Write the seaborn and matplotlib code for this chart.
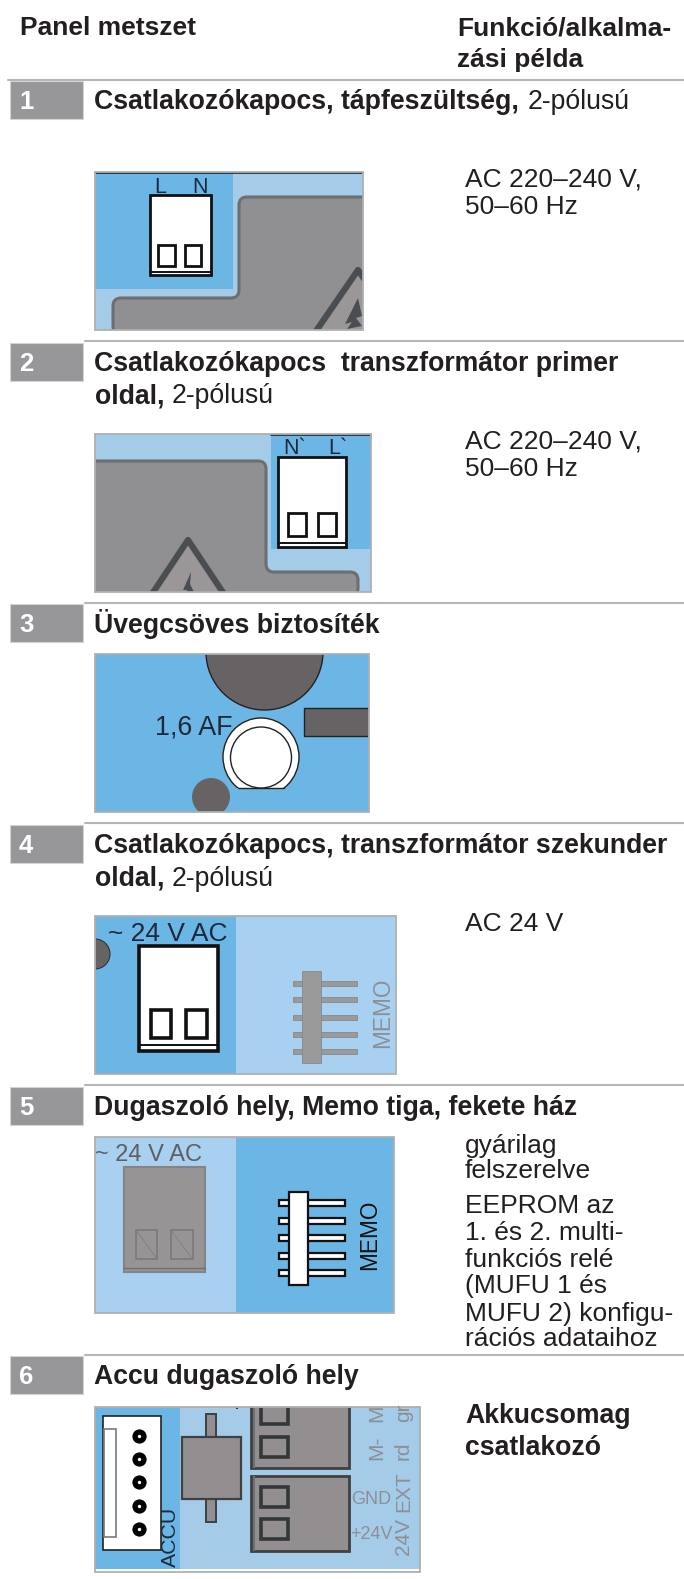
#!/usr/bin/env python3
"""Panel cut-outs and terminal table, drawn on a pixel-sized axes."""

import matplotlib

matplotlib.use("Agg")
import matplotlib.pyplot as plt
import pandas as pd
import seaborn as sns
from matplotlib.patches import Circle, Ellipse, PathPatch, Polygon, Rectangle
from matplotlib.path import Path

WIDTH, HEIGHT = 684, 1579

DARK_BLUE = "#6cb6e6"
LIGHT_BLUE = "#a4cbe8"
PALE_BLUE = "#a8d0f0"
GREY = "#908f91"
BAND = "#97979a"
INK = "#231f20"
LABEL = "#1d2a3a"
FAINT = "#8b9098"

header_left = "Panel metszet"
header_right = ["Funkció/alkalma-", "zási példa"]

row_numbers = ["1", "2", "3", "4", "5", "6"]
row_titles = [
    ["Csatlakozókapocs, tápfeszültség,"],
    ["Csatlakozókapocs  transzformátor primer", "oldal,"],
    ["Üvegcsöves biztosíték"],
    ["Csatlakozókapocs, transzformátor szekunder", "oldal,"],
    ["Dugaszoló hely, Memo tiga, fekete ház"],
    ["Accu dugaszoló hely"],
]
row_title_baselines = [[109], [371, 403], [633], [853, 886], [1115], [1384]]
pole_note = "2-pólusú"

mains_note = ["AC 220–240 V,", "50–60 Hz"]
low_voltage_note = ["AC 24 V"]
memo_note = [
    "gyárilag",
    "felszerelve",
    "EEPROM az",
    "1. és 2. multi-",
    "funkciós relé",
    "(MUFU 1 és",
    "MUFU 2) konfigu-",
    "rációs adataihoz",
]
memo_note_baselines = [1153, 1178, 1213, 1240, 1267, 1293, 1321, 1346]
accu_note = ["Akkucsomag", "csatlakozó"]

rule_rows = [0, 1, 2, 3, 4, 5]
rule_levels = [80, 341, 603, 823, 1085, 1355]
rule_starts = [8, 85, 85, 85, 85, 85]
badge_tops = [81, 343, 604, 825, 1087, 1356]

accu_pin_levels = [1436, 1459, 1482, 1506, 1529]

sns.set_theme(style="white")
plt.rcParams["font.family"] = ["Liberation Sans", "DejaVu Sans"]

fig = plt.figure(figsize=(WIDTH / 100, HEIGHT / 100), dpi=100, facecolor="white")
ax = fig.add_axes([0, 0, 1, 1])
ax.set_xlim(0, WIDTH)
ax.set_ylim(HEIGHT, 0)
ax.axis("off")


def label(x, y, s, size=19, weight="normal", color=INK, **kw):
    kw.setdefault("va", "baseline")
    return ax.text(x, y, s, fontsize=size, fontweight=weight, color=color, zorder=6, **kw)


def box(x0, y0, x1, y1, fc, ec="none", lw=0, clip=None, z=2):
    p = Rectangle((x0, y0), x1 - x0, y1 - y0, facecolor=fc, edgecolor=ec, linewidth=lw, zorder=z)
    ax.add_patch(p)
    if clip is not None:
        p.set_clip_path(clip)
    return p


def panel(x0, y0, x1, y1, fc):
    frame = box(x0, y0, x1, y1, fc, z=1)
    ax.add_patch(Rectangle((x0, y0), x1 - x0, y1 - y0, fill=False, edgecolor="#aeb0b2", linewidth=1.3, zorder=5))
    return frame


def rounded_shape(points, radius, clip, fc=GREY, ec="#6d6e71", lw=2.2):
    # open polygon with quadratic corners at every inner point
    verts, codes = [points[0]], [Path.MOVETO]
    for i in range(1, len(points) - 1):
        (ax_, ay_), (bx, by), (cx, cy) = points[i - 1], points[i], points[i + 1]
        d1 = max(abs(bx - ax_), abs(by - ay_))
        d2 = max(abs(cx - bx), abs(cy - by))
        r1, r2 = min(radius, d1 / 2), min(radius, d2 / 2)
        verts += [
            (bx - (bx - ax_) / d1 * r1, by - (by - ay_) / d1 * r1),
            (bx, by),
            (bx + (cx - bx) / d2 * r2, by + (cy - by) / d2 * r2),
        ]
        codes += [Path.LINETO, Path.CURVE3, Path.CURVE3]
    verts.append(points[-1])
    codes.append(Path.LINETO)
    p = PathPatch(Path(verts, codes), facecolor=fc, edgecolor=ec, linewidth=lw, zorder=2)
    ax.add_patch(p)
    p.set_clip_path(clip)


def warning(apex_x, apex_y, half, depth, clip, lw):
    p = Polygon(
        [(apex_x, apex_y), (apex_x + half, apex_y + depth), (apex_x - half, apex_y + depth)],
        closed=True, facecolor="#9b9799", edgecolor="#4a4e52", linewidth=lw, joinstyle="round", zorder=3,
    )
    ax.add_patch(p)
    p.set_clip_path(clip)


def bolt(points, clip):
    p = Polygon(points, closed=True, facecolor="#4a4e52", edgecolor="none", zorder=4)
    ax.add_patch(p)
    p.set_clip_path(clip)


def terminal(x0, y0, x1, y1, slots, slot_top, slot_bottom, foot, lw=2.0):
    box(x0, y0, x1, y1, "white", "#111111", lw, z=3)
    for sx0, sx1 in slots:
        box(sx0, slot_top, sx1, slot_bottom, "white", "#111111", lw, z=4)
    ax.plot([x0, x1], [foot, foot], color="#111111", lw=1.4, zorder=4)


def grey_block(x0, y0, x1, y1, slots, clip):
    box(x0, y0, x1, y1, "#938f90", "#3f4042", 2, clip=clip, z=3)
    box(x0 + 2.5, y0, x0 + 4, y1, "#6f6e70", clip=clip, z=4)
    for sx0, sx1, sy0, sy1 in slots:
        box(sx0, sy0, sx1, sy1, "#938f90", "#33373a", 2.6, clip=clip, z=4)


def pin_header(body, pins, levels, pin_h, fc, ec, lw):
    for lev in levels:
        box(pins[0], lev - pin_h / 2, pins[1], lev + pin_h / 2, fc, ec, lw, z=3)
    box(body[0], body[1], body[2], body[3], fc, ec, lw, z=4)


# header and rules
label(20, 35, header_left, weight="bold")
label(457, 35, header_right[0], weight="bold")
label(457, 67, header_right[1], weight="bold")

rules = pd.DataFrame(
    {
        "row": rule_rows * 2,
        "x": rule_starts + [WIDTH] * len(rule_rows),
        "y": rule_levels * 2,
    }
)
sns.lineplot(
    data=rules, x="x", y="y", units="row", estimator=None, color="#b4b5b7",
    linewidth=1.5, legend=False, ax=ax, zorder=1,
)
ax.set_xlim(0, WIDTH)
ax.set_ylim(HEIGHT, 0)
ax.axis("off")

for num, top, titles, bases in zip(row_numbers, badge_tops, row_titles, row_title_baselines):
    box(9.5, top, 82.5, top + 38, BAND, "#d4d4d6", 0.8)
    label(19, top + 28, num, weight="bold", color="white", size=18.5)
    for text, base in zip(titles, bases):
        label(94.5, base, text, weight="bold", size=19.2)

label(528, 109, pole_note, size=19.2)
label(171.5, 403, pole_note, size=19.2)
label(171.5, 886, pole_note, size=19.2)

# right-hand notes
for base, text in zip([187, 214], mains_note):
    label(465, base, text)
for base, text in zip([449, 476], mains_note):
    label(465, base, text)
label(465, 931, low_voltage_note[0])
for base, text in zip(memo_note_baselines, memo_note):
    label(465, base, text)
for base, text in zip([1423, 1455], accu_note):
    label(465, base, text, weight="bold", size=19.2)

# panel 1
clip = panel(95, 172, 363, 330, LIGHT_BLUE)
box(95, 172, 232.5, 289, DARK_BLUE, clip=clip)
rounded_shape([(366, 197), (239, 197), (239, 298), (113, 298), (113, 334), (366, 334)], 8, clip)
warning(358, 270, 55, 80, clip, 4.5)
bolt([(358, 298), (345, 324), (352, 322), (347, 329), (362, 326), (356, 318), (362, 316)], clip)
ax.plot([95, 363], [173, 173], color="#222222", lw=1.2, zorder=4)
terminal(150, 195, 211, 275, [(158, 174.5), (185, 201)], 245, 266, 271.5)
label(160, 193, "L", size=15.5, color=LABEL, ha="center")
label(200, 193, "N", size=15.5, color=LABEL, ha="center")

# panel 2
clip = panel(95, 434, 371, 592, LIGHT_BLUE)
box(270.5, 434, 371, 549, DARK_BLUE, clip=clip)
rounded_shape([(92, 461), (266, 461), (266, 572), (358, 572), (358, 596), (92, 596)], 8, clip)
warning(188, 540, 40, 60, clip, 4.5)
bolt([(191, 572), (183, 590), (187, 590), (186, 594), (195, 594), (190, 584)], clip)
ax.plot([270.5, 371], [435, 435], color="#222222", lw=1.2, zorder=4)
terminal(278, 457, 346, 547, [(288, 305.5), (317.5, 336)], 513, 536, 543)
label(283, 454, "N`", size=15.5, color=LABEL)
label(328, 454, "L`", size=15.5, color=LABEL)

# panel 3
clip = panel(95, 654, 369, 812, DARK_BLUE)
blob = Ellipse((264.5, 652), 117, 116, facecolor="#676365", edgecolor="#222222", linewidth=1, zorder=2)
ax.add_patch(blob)
blob.set_clip_path(clip)
box(304, 708, 369, 736, "#676365", "#222222", 1, clip=clip)
shell = Ellipse((261, 757), 76, 78, facecolor="white", edgecolor="#222222", linewidth=1, zorder=3)
ax.add_patch(shell)
shell.set_clip_path(Rectangle((200, 700), 120, 88, transform=ax.transData))
ax.plot([238, 284], [788, 788], color="#222222", lw=1, zorder=4)
ax.add_patch(Ellipse((261, 757.5), 61, 61, facecolor="white", edgecolor="#222222", linewidth=1, zorder=4))
foot = Circle((211, 797), 19, facecolor="#676365", edgecolor="none", zorder=2)
ax.add_patch(foot)
foot.set_clip_path(clip)
label(155, 735, "1,6 AF", size=19.4, color=LABEL)

# panel 4
clip = panel(95, 916, 396, 1074, PALE_BLUE)
box(95, 916, 236, 1074, DARK_BLUE, clip=clip)
stub = Circle((95, 954), 15, facecolor="#676365", edgecolor="#333333", linewidth=0.8, zorder=3)
ax.add_patch(stub)
stub.set_clip_path(clip)
terminal(139, 946, 218, 1051, [(150.5, 171), (185.5, 206.5)], 1010, 1038, 1045, lw=2.6)
label(108, 941, "~ 24 V AC", size=19, color=LABEL)
pin_header((302, 971, 320.5, 1063), (293, 357), [983, 999, 1017, 1034, 1051], 5, "#9a9a9a", "#84888c", 0.6)
label(383, 1048, "MEMO", size=16.3, color=FAINT, rotation=90, ha="center", va="bottom")

# panel 5
clip = panel(95, 1137, 393.5, 1313, DARK_BLUE)
box(95, 1137, 235.5, 1313, PALE_BLUE, clip=clip)
box(124, 1167, 205, 1272, "#979495", "#858385", 1.5, z=3)
ax.plot([124, 205], [1268, 1268], color="#6f6e70", lw=1, zorder=4)
for sx0, sx1 in [(136, 157), (171, 192.5)]:
    box(sx0, 1230, sx1, 1259, "#979495", "#7a7a7c", 1.2, z=4)
    ax.plot([sx0, sx1], [1230, 1259], color="#7a7a7c", lw=0.5, zorder=4)
label(95, 1161, "~ 24 V AC", size=17, color="#5f5f60")
pin_header((288.5, 1192, 307.5, 1285), (279, 344.5), [1203, 1221, 1238, 1256, 1273], 5.5, "white", "#111111", 1.6)
label(370, 1270, "MEMO", size=16.3, color="#111111", rotation=90, ha="center", va="bottom")

# panel 6
clip = panel(95, 1407, 420, 1572, LIGHT_BLUE)
box(95, 1407, 180, 1572, DARK_BLUE, clip=clip)
box(95, 1569, 420, 1572, "white", clip=clip, z=3)
box(102.5, 1416, 160.5, 1550, "white", "#222222", 1.2, z=3)
box(104, 1429, 115.5, 1537, "white", "#77797c", 1.2, z=4)
pins = pd.DataFrame({"x": [138.5] * len(accu_pin_levels), "y": accu_pin_levels})
sns.scatterplot(data=pins, x="x", y="y", s=105, color="black", linewidth=0, marker="o", legend=False, ax=ax, zorder=5)
sns.scatterplot(data=pins, x="x", y="y", s=6, color="white", linewidth=0, marker="o", legend=False, ax=ax, zorder=6)
ax.set_xlim(0, WIDTH)
ax.set_ylim(HEIGHT, 0)
ax.axis("off")
label(170, 1567, "ACCU", size=15.3, color=LABEL, rotation=90, ha="center", va="bottom")

box(206, 1414, 215.5, 1522, "#938f90", "#3f4042", 1.4, z=3)
box(181.5, 1437, 240.5, 1499, "#938f90", "#3f4042", 1.6, z=4)
grey_block(250.5, 1400, 349, 1468, [(260.5, 287.5, 1400, 1424), (260.5, 287.5, 1437, 1457)], clip)
grey_block(250.5, 1476, 349, 1551, [(260.5, 287.5, 1487, 1507), (260.5, 287.5, 1519, 1539)], clip)
box(236, 1407, 238, 1409, "#333333", clip=clip, z=4)

label(351.5, 1504, "GND", size=13, color=FAINT)
label(350, 1539, "+24V", size=13, color=FAINT)
for x, y, s in [
    (377, 1460, "M-"),
    (403.5, 1460, "rd"),
    (403.5, 1512, "EXT"),
    (403.5, 1555, "24V"),
    (377, 1422, "M"),
    (403.5, 1422, "gr"),
]:
    t = label(x, y, s, size=15, color=FAINT, rotation=90, ha="center", va="bottom")
    t.set_clip_path(clip)

fig.savefig("out.png", dpi=100, facecolor="white")
